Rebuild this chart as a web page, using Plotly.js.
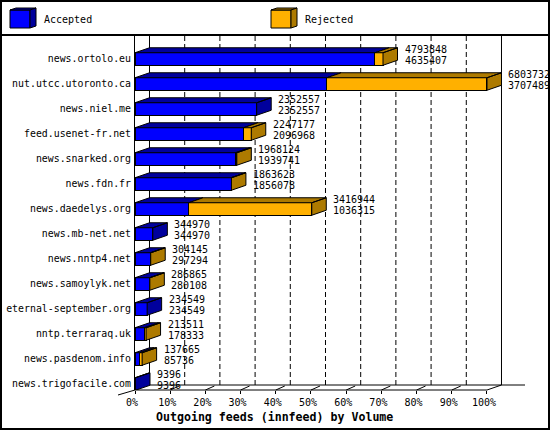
<!DOCTYPE html>
<html><head><meta charset="utf-8">
<script src="https://cdn.plot.ly/plotly-3.0.1.min.js"></script>
<style>html,body{margin:0;padding:0;background:#fff}</style>
</head><body><div id="chart" style="width:550px;height:430px"></div>
<script>
// ---- data ----
const hosts = ['news.ortolo.eu','nut.utcc.utoronto.ca','news.niel.me','feed.usenet-fr.net','news.snarked.org','news.fdn.fr','news.daedelys.org','news.mb-net.net','news.nntp4.net','news.samoylyk.net','eternal-september.org','nntp.terraraq.uk','news.pasdenom.info','news.trigofacile.com'];
const offered  = [4793848,6803732,2352557,2247177,1968124,1863623,3416944,344970,304145,286865,234549,213511,137665,9396];
const accepted = [4635407,3707489,2352557,2096968,1939741,1856078,1036315,344970,297294,280108,234549,178333,85736,9396];
const tickPercents = [0,10,20,30,40,50,60,70,80,90,100];
const seriesNames = ['Accepted','Rejected'];
const axisTitle = 'Outgoing feeds (innfeed) by Volume';

(function(){
// ---- layout constants ----
const W=550,H=430,L=135,R=25,T=36,B=40;
const plotW=W-L-R, plotH=H-T-B;
const XMAX=110.8, pxPerPct=plotW/XMAX;
const ROW_PX=25, YTOP=-0.92, YBOT=YTOP+plotH/ROW_PX;
const dx=14.5/pxPerPct, dy=5/ROW_PX, HALF=0.25;
const BLUE='#0000FF', DBLUE='#00009C', ORANGE='#FFB000', DORANGE='#AD7A00';
const FONT='DejaVu Sans Mono';
const PX=p=>(p-L)/plotW, PY=p=>(H-B-p)/plotH;

const maxV=Math.max(...offered);
const accPct=accepted.map(v=>v/maxV*100);
const rejPct=offered.map((v,i)=>(v-accepted[i])/maxV*100);
const offPct=offered.map(v=>v/maxV*100);
const idx=hosts.map((_,i)=>i);

// 3D faces
const fb={x:[],y:[]}, fo={x:[],y:[]};
function topFace(f,a,b,i){const yb=i-HALF,yt=i-HALF-dy;f.x.push(a,b,b+dx,a+dx,a,null);f.y.push(yb,yb,yt,yt,yb,null);}
function sideFace(f,b,i){const y1=i+HALF,y0=i-HALF;f.x.push(b,b,b+dx,b+dx,b,null);f.y.push(y1,y0,y0-dy,y1-dy,y1,null);}
idx.forEach(i=>{
  topFace(fb,0,accPct[i],i);
  if(rejPct[i]>0){topFace(fo,accPct[i],offPct[i],i);sideFace(fo,offPct[i],i);}
  else sideFace(fb,accPct[i],i);
});

const traces=[
 {type:'bar',orientation:'h',name:seriesNames[0],y:idx,x:accPct,width:0.5,marker:{color:BLUE,line:{color:'#000',width:1}},hoverinfo:'skip',showlegend:false},
 {type:'bar',orientation:'h',name:seriesNames[1],y:idx,x:rejPct,width:0.5,marker:{color:ORANGE,line:{color:'#000',width:1}},hoverinfo:'skip',showlegend:false},
 {type:'scatter',mode:'lines',x:fb.x,y:fb.y,fill:'toself',fillcolor:DBLUE,line:{color:'#000',width:1},hoverinfo:'skip',showlegend:false},
 {type:'scatter',mode:'lines',x:fo.x,y:fo.y,fill:'toself',fillcolor:DORANGE,line:{color:'#000',width:1},hoverinfo:'skip',showlegend:false}
];

const shapes=[];
const ln=(o)=>Object.assign({type:'line',line:{color:'#000',width:1}},o);
tickPercents.forEach(v=>{
  const solid=(v===0||v===100);
  shapes.push(ln({xref:'x',yref:'paper',x0:v+dx,x1:v+dx,y0:PY(385),y1:PY(36),layer:'below',line:{color:'#000',width:1,dash:solid?'solid':'5px,3px'}}));
  if(v>0&&v<100) shapes.push(ln({xref:'x',yref:'paper',x0:v,x1:v+9/pxPerPct,y0:PY(390),y1:PY(386)}));
});
shapes.push(ln({xref:'x',yref:'paper',x0:0,x1:100,y0:PY(390),y1:PY(390)}));
shapes.push(ln({xref:'x',yref:'paper',x0:100,x1:100+dx,y0:PY(390),y1:PY(385)}));
shapes.push(ln({xref:'paper',yref:'paper',x0:PX(150),x1:PX(525),y0:PY(385),y1:PY(385)}));
shapes.push(ln({xref:'paper',yref:'paper',x0:PX(118),x1:PX(135),y0:PY(395),y1:PY(390)}));
shapes.push({type:'rect',xref:'paper',yref:'paper',x0:PX(1),x1:PX(549),y0:PY(429),y1:PY(1),line:{color:'#000',width:2}});
shapes.push(ln({xref:'paper',yref:'paper',x0:PX(0),x1:PX(550),y0:PY(35),y1:PY(35),line:{color:'#000',width:2}}));
function cube(x,front,dark){
  const p=(pts)=>'M'+pts.map(q=>PX(q[0])+','+PY(q[1])).join(' L')+' Z';
  shapes.push({type:'path',xref:'paper',yref:'paper',path:p([[x,10],[x+20,10],[x+20,28],[x,28]]),fillcolor:front,line:{color:'#000',width:1}});
  shapes.push({type:'path',xref:'paper',yref:'paper',path:p([[x,10],[x+20,10],[x+26,8],[x+6,8]]),fillcolor:dark,line:{color:'#000',width:1}});
  shapes.push({type:'path',xref:'paper',yref:'paper',path:p([[x+20,10],[x+26,8],[x+26,26],[x+20,28]]),fillcolor:dark,line:{color:'#000',width:1}});
}
cube(10,BLUE,DBLUE); cube(271,ORANGE,DORANGE);

const annotations=[];
idx.forEach(i=>{
  annotations.push({x:offPct[i],y:i,xref:'x',yref:'y',text:String(offered[i]),showarrow:false,xanchor:'left',yanchor:'middle',xshift:19.5,yshift:9.5,font:{family:FONT,size:10,color:'#000'}});
  annotations.push({x:offPct[i],y:i,xref:'x',yref:'y',text:String(accepted[i]),showarrow:false,xanchor:'left',yanchor:'middle',xshift:19.5,yshift:-1.5,font:{family:FONT,size:10,color:'#000'}});
});
annotations.push({xref:'paper',yref:'paper',x:PX(42),y:PY(20),text:seriesNames[0],showarrow:false,xanchor:'left',yanchor:'middle',font:{family:FONT,size:10,color:'#000'}});
annotations.push({xref:'paper',yref:'paper',x:PX(303),y:PY(20),text:seriesNames[1],showarrow:false,xanchor:'left',yanchor:'middle',font:{family:FONT,size:10,color:'#000'}});
annotations.push({xref:'paper',yref:'paper',x:PX(274.5),y:PY(417),text:'<b>'+axisTitle+'</b>',showarrow:false,xanchor:'center',yanchor:'middle',font:{family:FONT,size:11.6,color:'#000'}});

const layout={
  width:W,height:H,margin:{l:L,r:R,t:T,b:B},
  paper_bgcolor:'#fff',plot_bgcolor:'#fff',
  font:{family:FONT,size:10,color:'#000'},
  barmode:'stack',showlegend:false,
  xaxis:{range:[0,XMAX],tickvals:tickPercents,ticktext:tickPercents.map(v=>v+'%'),ticks:'outside',ticklen:3,tickcolor:'#000',showgrid:false,zeroline:false,showline:false,ticklabelshift:-3,tickfont:{family:FONT,size:10,color:'#000'}},
  yaxis:{range:[YBOT,YTOP],tickvals:idx,ticktext:hosts,ticks:'',showgrid:false,zeroline:false,showline:true,linecolor:'#000',linewidth:1,ticklabelstandoff:1,tickfont:{family:FONT,size:9.9,color:'#000'}},
  shapes:shapes,annotations:annotations
};
Plotly.newPlot('chart',traces,layout,{staticPlot:true,displayModeBar:false});
})();
</script></body></html>
